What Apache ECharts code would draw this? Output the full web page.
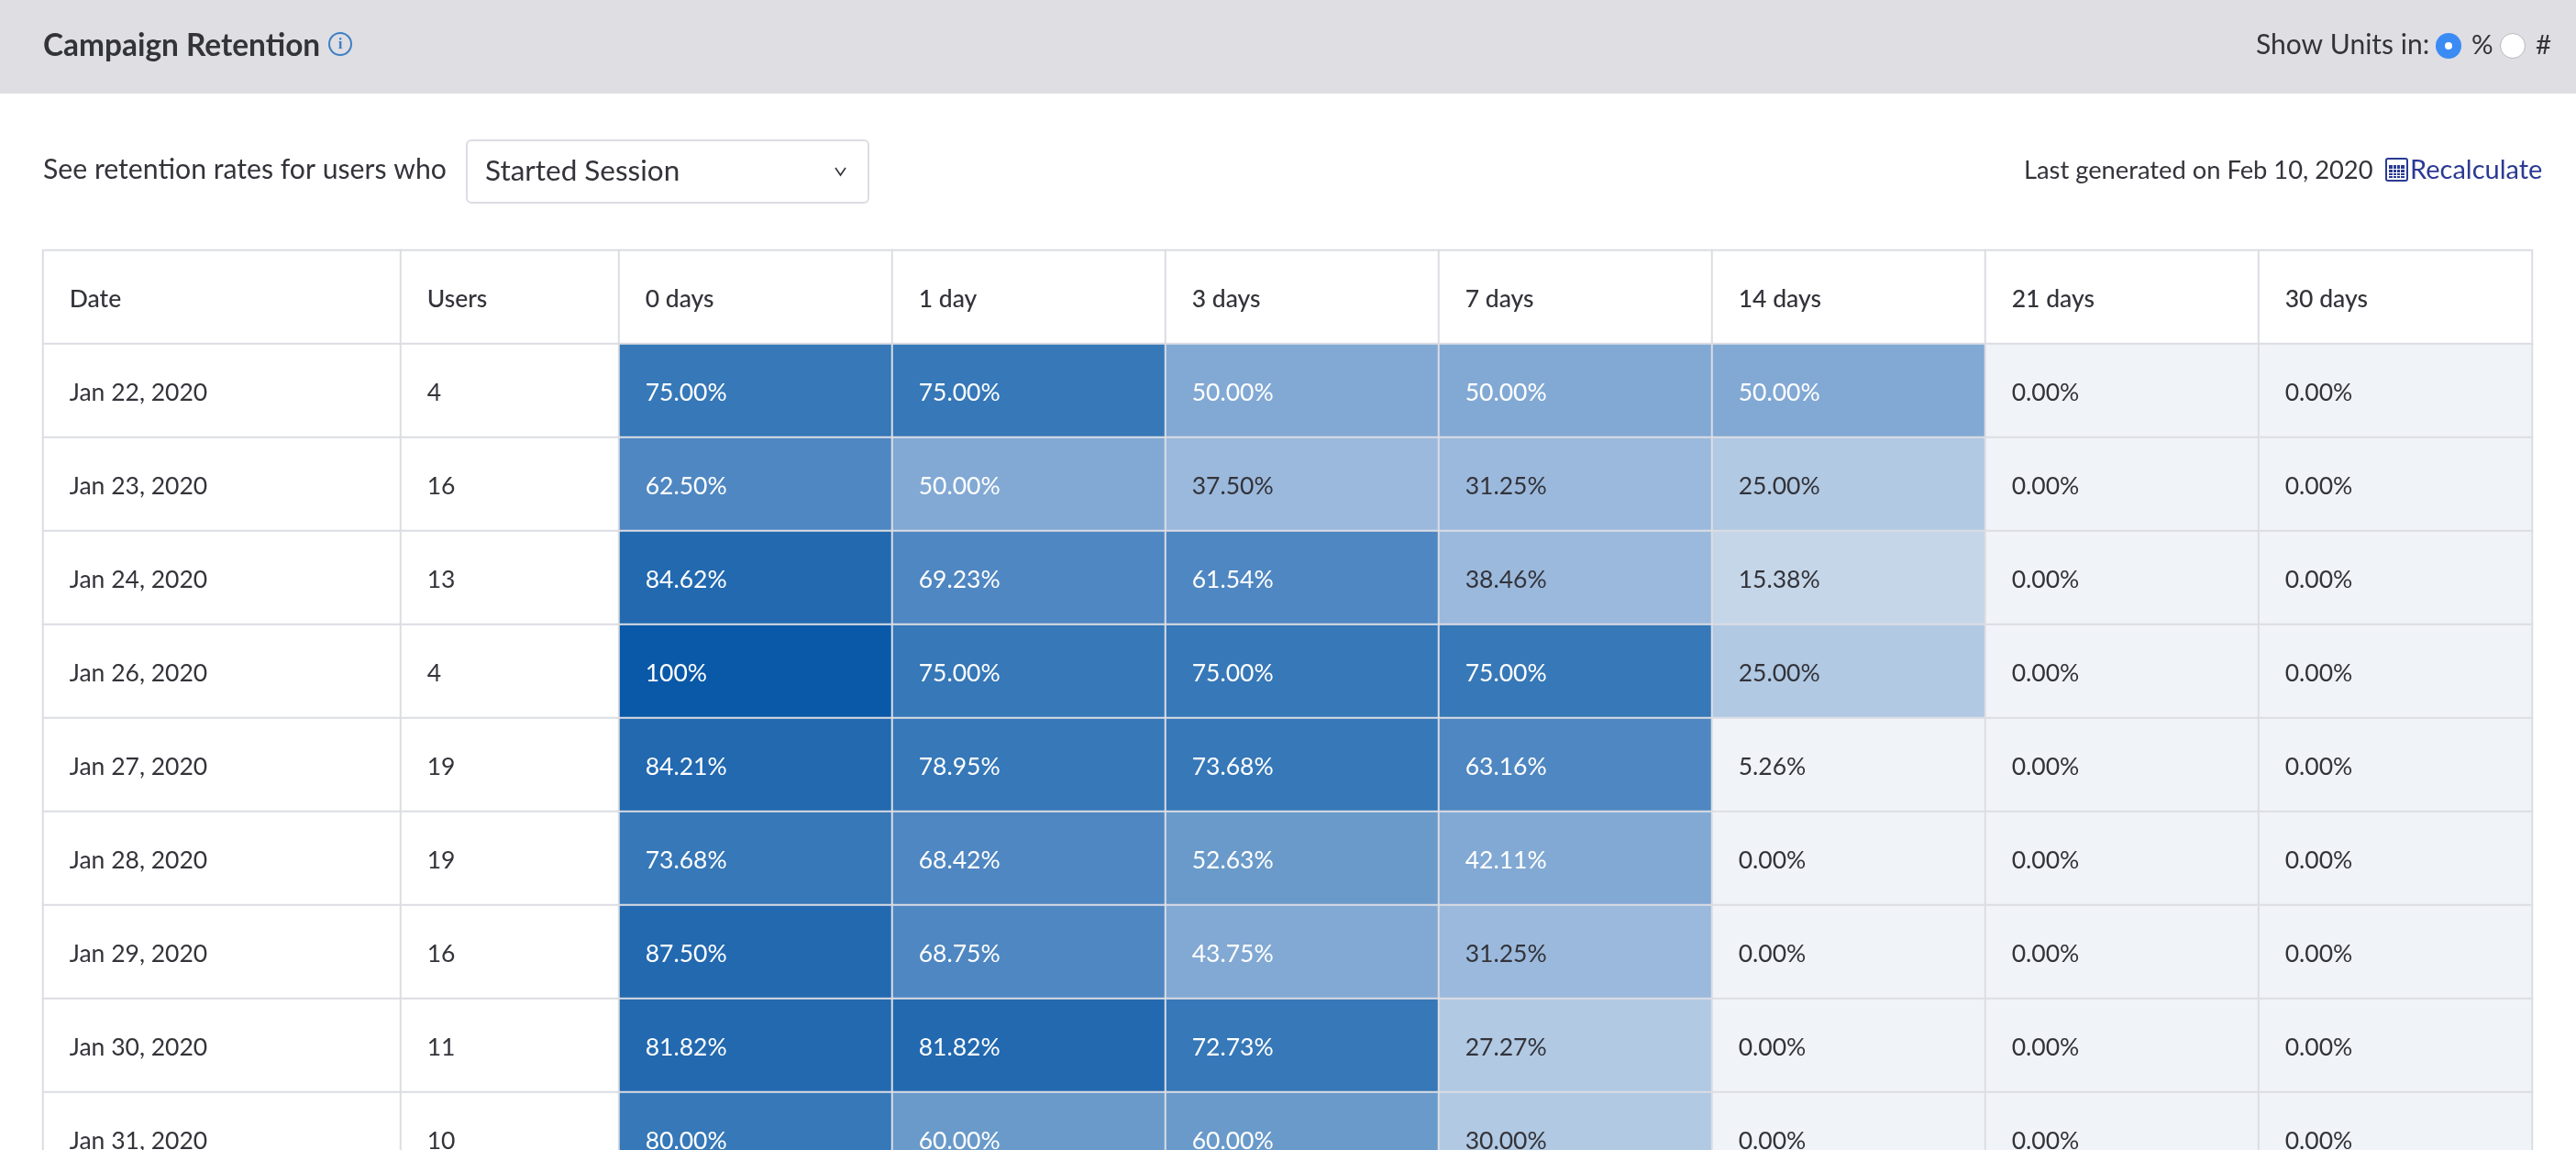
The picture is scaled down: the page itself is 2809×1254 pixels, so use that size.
<!DOCTYPE html>
<html>
<head>
<meta charset="UTF-8">
<title>Campaign Retention</title>
<script src="https://cdn.jsdelivr.net/npm/echarts@6/dist/echarts.min.js"></script>
<style type="text/css">
html, body {
	width: 100%;
	height: 100%;
	padding: 0px;
	margin: 0px;
	background: #fff;
}
</style>
</head>
<body>
	<div id="chart" style="width: 100%; height: 100%;"></div>

	<script type="text/javascript">
        var FONT = 'Lato';
        var TEXT = '#33333a';
        var LINE = '#dcdde3';
        var LINK = '#2b3a94';

        var days = ['0 days', '1 day', '3 days', '7 days', '14 days', '21 days', '30 days'];

        // 日期, 用户数, 留存率
        var table = [
            ['Jan 22, 2020', 4,  [75.00, 75.00, 50.00, 50.00, 50.00, 0, 0]],
            ['Jan 23, 2020', 16, [62.50, 50.00, 37.50, 31.25, 25.00, 0, 0]],
            ['Jan 24, 2020', 13, [84.62, 69.23, 61.54, 38.46, 15.38, 0, 0]],
            ['Jan 26, 2020', 4,  [100, 75.00, 75.00, 75.00, 25.00, 0, 0]],
            ['Jan 27, 2020', 19, [84.21, 78.95, 73.68, 63.16, 5.26, 0, 0]],
            ['Jan 28, 2020', 19, [73.68, 68.42, 52.63, 42.11, 0, 0, 0]],
            ['Jan 29, 2020', 16, [87.50, 68.75, 43.75, 31.25, 0, 0, 0]],
            ['Jan 30, 2020', 11, [81.82, 81.82, 72.73, 27.27, 0, 0, 0]],
            ['Jan 31, 2020', 10, [80.00, 60.00, 60.00, 30.00, 0, 0, 0]]
        ];

        var rowNames = ['header'].concat(table.map(function (r) { return r[0]; }));

        function textCell(weight) {
            return {
                show: true,
                position: 'insideLeft',
                distance: 30,
                offset: [0, 2],
                fontFamily: FONT,
                fontSize: 26.5,
                fontWeight: weight,
                color: TEXT,
                formatter: function (p) { return p.name; }
            };
        }

        var plainStyle = { color: '#fff', borderColor: LINE, borderWidth: 2 };

        var dateData = [{ name: 'Date', value: [0, 0, 0], label: { fontWeight: 500 } }];
        var userData = [{ name: 'Users', value: [0, 0, 0], label: { fontWeight: 500 } }];
        var headData = days.map(function (d, i) { return { name: d, value: [i, 0, 0] }; });
        var rateData = [];
        table.forEach(function (r, y) {
            dateData.push({ name: r[0], value: [0, y + 1, 0] });
            userData.push({ name: String(r[1]), value: [0, y + 1, r[1]] });
            r[2].forEach(function (v, x) {
                rateData.push({
                    value: [x, y + 1, v],
                    label: { color: v >= 40 ? '#ffffff' : TEXT }
                });
            });
        });

        function hiddenX(grid, names) {
            return { type: 'category', gridIndex: grid, data: names, show: false };
        }
        function hiddenY(grid) {
            return { type: 'category', gridIndex: grid, data: rowNames, inverse: true, show: false };
        }

        var TOP = 273, ROW = 102;

        function label(x, y, text, size, extra) {
            return {
                type: 'text',
                style: echarts.util.extend({
                    x: x, y: y, text: text, fill: TEXT,
                    font: '400 ' + size + 'px ' + FONT,
                    textVerticalAlign: 'middle'
                }, extra || {})
            };
        }

        var graphic = [
            { type: 'rect', shape: { x: 0, y: 0, width: 2809, height: 102 }, style: { fill: '#dedee3' } },
            label(47, 50, 'Campaign Retention', 33.4, { font: '700 33.4px ' + FONT }),
            { type: 'circle', shape: { cx: 371, cy: 48, r: 12 }, style: { fill: 'none', stroke: '#3d7fc4', lineWidth: 2 } },
            label(371, 49, 'i', 17, { fill: '#3d7fc4', font: '700 17px "Liberation Serif"', textAlign: 'center' }),
            label(2460, 49, 'Show Units in:', 30),
            { type: 'circle', shape: { cx: 2670, cy: 50, r: 14 }, style: { fill: '#3b8bf5' } },
            { type: 'circle', shape: { cx: 2670, cy: 50, r: 4 }, style: { fill: '#fff' } },
            label(2695, 49, '%', 29.5),
            { type: 'circle', shape: { cx: 2740, cy: 50, r: 13.5 }, style: { fill: '#fff', stroke: '#b8b8bd', lineWidth: 1 } },
            label(2765, 49, '#', 29.5),
            label(47, 185, 'See retention rates for users who', 30.2),
            { type: 'rect', shape: { x: 509, y: 153, width: 438, height: 68, r: 5 }, style: { fill: '#fff', stroke: LINE, lineWidth: 2 } },
            label(529, 187, 'Started Session', 31.5),
            { type: 'polyline', shape: { points: [[911, 183], [916.5, 191], [922, 183]] }, style: { fill: 'none', stroke: TEXT, lineWidth: 1.6 } },
            label(2207, 186, 'Last generated on Feb 10, 2020', 27.3),
            { type: 'rect', shape: { x: 2602, y: 173, width: 23, height: 24, r: 2 }, style: { fill: '#fff', stroke: LINK, lineWidth: 2 } },
            { type: 'rect', shape: { x: 2605, y: 180, width: 17, height: 14 }, style: { fill: LINK } },
            label(2628, 186, 'Recalculate', 29, { fill: LINK })
        ];
        // 计算器图标的格子
        [2609, 2613, 2617].forEach(function (x) {
            graphic.push({ type: 'line', shape: { x1: x + 0.5, y1: 180, x2: x + 0.5, y2: 194 }, style: { stroke: '#fff', lineWidth: 1 } });
        });
        [184, 188, 191].forEach(function (y) {
            graphic.push({ type: 'line', shape: { x1: 2605, y1: y + 0.5, x2: 2622, y2: y + 0.5 }, style: { stroke: '#fff', lineWidth: 1 } });
        });

        var myChart = echarts.init(document.getElementById('chart'));
        myChart.setOption({
            backgroundColor: '#ffffff',
            animation: false,
            graphic: graphic,
            grid: [
                { left: 47, top: TOP, width: 390, height: ROW * rowNames.length, outerBoundsMode: 'none' },
                { left: 437, top: TOP, width: 238, height: ROW * rowNames.length, outerBoundsMode: 'none' },
                { left: 675, top: TOP, width: 2086, height: ROW * rowNames.length, outerBoundsMode: 'none' }
            ],
            xAxis: [hiddenX(0, ['Date']), hiddenX(1, ['Users']), hiddenX(2, days)],
            yAxis: [hiddenY(0), hiddenY(1), hiddenY(2)],
            visualMap: {
                show: false,
                type: 'piecewise',
                seriesIndex: 3,
                dimension: 2,
                pieces: [
                    { lte: 10, color: '#f0f3f8' },
                    { gt: 10, lte: 20, color: '#c5d6e8' },
                    { gt: 20, lte: 30, color: '#b1c9e3' },
                    { gt: 30, lte: 40, color: '#9bb9dc' },
                    { gt: 40, lte: 50, color: '#82a9d4' },
                    { gt: 50, lte: 60, color: '#6a9aca' },
                    { gt: 60, lte: 70, color: '#4f87c2' },
                    { gt: 70, lte: 80, color: '#3678b8' },
                    { gt: 80, lte: 90, color: '#2269b0' },
                    { gt: 90, color: '#0a59a8' }
                ]
            },
            series: [
                { type: 'heatmap', xAxisIndex: 0, yAxisIndex: 0, data: dateData, itemStyle: plainStyle, label: textCell(400) },
                { type: 'heatmap', xAxisIndex: 1, yAxisIndex: 1, data: userData, itemStyle: plainStyle, label: textCell(400) },
                { type: 'heatmap', xAxisIndex: 2, yAxisIndex: 2, data: headData, itemStyle: plainStyle, label: textCell(500) },
                {
                    type: 'heatmap', xAxisIndex: 2, yAxisIndex: 2, data: rateData,
                    itemStyle: { borderColor: LINE, borderWidth: 2 },
                    label: {
                        show: true, position: 'insideLeft', distance: 30, offset: [0, 2],
                        fontFamily: FONT, fontSize: 26.5,
                        formatter: function (p) {
                            var v = p.value[2];
                            return v === 100 ? '100%' : v.toFixed(2) + '%';
                        }
                    }
                }
            ]
        });
	</script>
</body>
</html>
